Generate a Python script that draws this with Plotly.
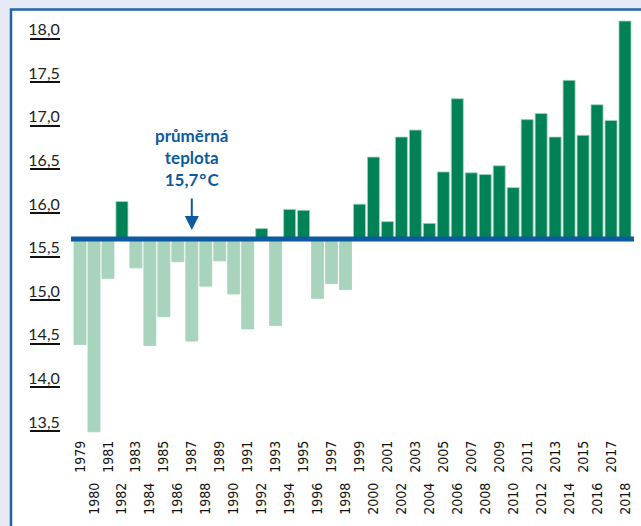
import plotly.graph_objects as go

years = list(range(1979, 2019))
temps = [14.49, 13.49, 15.25, 16.13, 15.37, 14.48, 14.81, 15.44, 14.53, 15.16,
         15.45, 15.07, 14.67, 15.82, 14.71, 16.04, 16.03, 15.02, 15.19, 15.12,
         16.10, 16.64, 15.90, 16.87, 16.95, 15.88, 16.47, 17.31, 16.46, 16.44,
         16.54, 16.29, 17.07, 17.14, 16.87, 17.52, 16.89, 17.24, 17.06, 18.20]
AVG = 15.7
y_ticks = [13.5, 14.0, 14.5, 15.0, 15.5, 16.0, 16.5, 17.0, 17.5, 18.0]
odd_years = [y for y in years if y % 2 == 1]
even_years = [y for y in years if y % 2 == 0]

DARK = "#008256"
LIGHT = "#a8d4be"
BLUE = "#0d5a9e"
FRAME = "#1f66ab"
BG = "#e7e9f5"

colors = [DARK if t > AVG else LIGHT for t in temps]

fig = go.Figure()
fig.add_trace(go.Bar(
    x=years, y=[t - AVG for t in temps], base=AVG,
    marker=dict(color=colors, line=dict(color="#a3d2ba", width=0.8)),
    hoverinfo="skip", showlegend=False,
))
fig.add_trace(go.Scatter(x=[], y=[], xaxis="x2", showlegend=False))

# average line
fig.add_shape(type="line", xref="x domain", x0=0, x1=1, yref="y", y0=AVG, y1=AVG,
              line=dict(color=BLUE, width=5), layer="above")

# geometry (pixels)
ML, MR, T, H = 20, 7, 10, 427
PW = 641 - ML - MR
PLOT_L = 71
def px_x(p):
    return (p - ML) / PW
def px_y(p):
    return (T + H - p) / H

# frame
fig.add_shape(type="rect", xref="paper", yref="paper",
              x0=px_x(11), x1=px_x(700), y0=px_y(600), y1=px_y(9.5),
              line=dict(color=FRAME, width=2.5), fillcolor="white", layer="below")

# annotation
fig.add_annotation(x=1987, y=AVG, xref="x", yref="y", text="",
                   showarrow=True, ax=0, ay=-42, standoff=9,
                   arrowhead=2, arrowsize=1.4, arrowwidth=2, arrowcolor=BLUE)
fig.add_annotation(x=1987, y=AVG, xref="x", yref="y", yshift=47,
                   text="průměrná<br>teplota<br>15,7\u200a°\u200aC", showarrow=False,
                   yanchor="bottom", xanchor="center",
                   font=dict(family="Lato", size=17, color=BLUE, weight="bold"))

xr = [1979 - 0.645, 2018 + 0.645]
xdom = [px_x(PLOT_L), 1]
fig.update_layout(
    width=641, height=526,
    margin=dict(l=ML, r=MR, t=T, b=526 - T - H, autoexpand=False),
    paper_bgcolor=BG, plot_bgcolor="rgba(0,0,0,0)",
    separators=", ",
    bargap=0.14,
    xaxis=dict(range=xr, domain=xdom, tickmode="array", tickvals=odd_years,
               ticktext=[str(y) for y in odd_years], tickangle=-90,
               showgrid=False, zeroline=False, showline=False, ticks="",
               automargin=False,
               tickfont=dict(family="DejaVu Sans Condensed", size=14, color="#111")),
    xaxis2=dict(range=xr, domain=xdom, overlaying="x", anchor="y", side="bottom",
                tickmode="array", tickvals=even_years,
                ticktext=[str(y) for y in even_years], tickangle=-90,
                ticklabelstandoff=42, automargin=False,
                showgrid=False, zeroline=False, showline=False, ticks="",
                tickfont=dict(family="DejaVu Sans Condensed", size=14, color="#111")),
    yaxis=dict(range=[13.43, 18.327], tickmode="array", tickvals=y_ticks,
               tickformat=".1f", anchor="free", position=px_x(60),
               ticks="outside", ticklen=30, tickwidth=1.6, tickcolor="#111",
               ticklabelshift=-9, ticklabelstandoff=-33, automargin=False,
               showgrid=False, zeroline=False, showline=False,
               tickfont=dict(family="Lato", size=16, color="#222")),
)

fig.write_html("out.html", config={"displayModeBar": False},
               post_script="document.body.style.margin='0';")
